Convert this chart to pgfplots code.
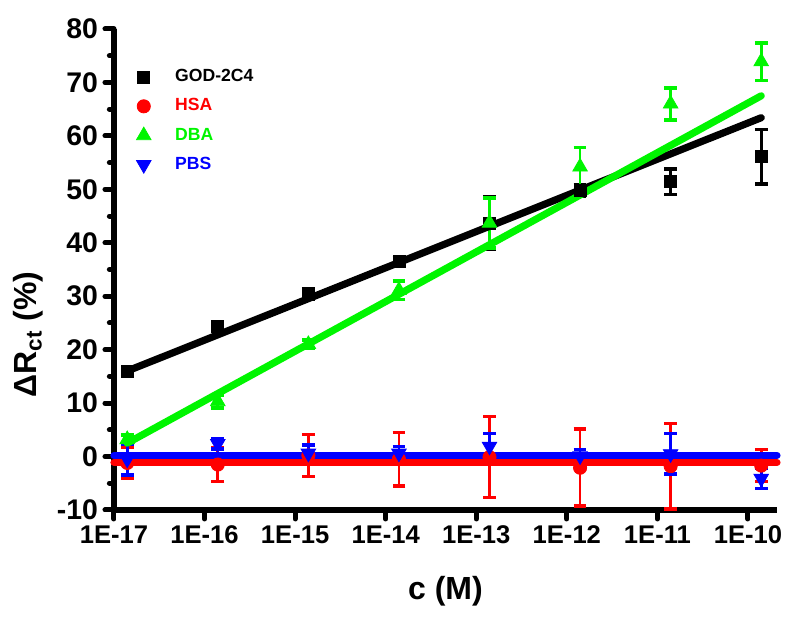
\documentclass[border=0pt]{standalone}
\usepackage{fontspec}
\setmainfont{Liberation Sans}
\usepackage{pgfplots}
\usepackage{pgfplotstable}
\pgfplotsset{compat=1.18}

\definecolor{cred}{RGB}{255,0,0}
\definecolor{cgreen}{RGB}{0,245,0}
\definecolor{cblue}{RGB}{0,0,255}

% x = concentration (M), y = Delta R_ct (%), e = error
\pgfplotstableread{
x        y     e
1.4e-17  16.0  0.6
1.4e-16  24.4  0.8
1.4e-15  30.4  0.9
1.4e-14  36.6  0.5
1.4e-13  43.7  4.9
1.4e-12  49.8  1.0
1.4e-11  51.4  2.4
1.4e-10  56.1  5.1
}\godtab
\pgfplotstableread{
x        y     e
1.4e-17  -1.2  2.9
1.4e-16  -1.5  3.2
1.4e-15  0.2   3.9
1.4e-14  -0.5  5.0
1.4e-13  -0.1  7.6
1.4e-12  -2.1  7.2
1.4e-11  -1.8  8.0
1.4e-10  -1.7  3.0
}\hsatab
\pgfplotstableread{
x        y     e
1.4e-17  3.2   0.8
1.4e-16  10.3  1.2
1.4e-15  21.0  0.8
1.4e-14  31.1  1.7
1.4e-13  43.7  4.7
1.4e-12  54.2  3.6
1.4e-11  66.0  3.0
1.4e-10  73.9  3.5
}\dbatab
\pgfplotstableread{
x        y     e
1.4e-17  -0.5  2.9
1.4e-16  2.4   1.0
1.4e-15  0.6   1.6
1.4e-14  0.6   1.3
1.4e-13  1.9   2.4
1.4e-12  0.1   1.2
1.4e-11  0.5   3.8
1.4e-10  -4.1  1.9
}\pbstab

\begin{document}
\begin{tikzpicture}
\begin{axis}[
    scale only axis,
    width=331.5pt, height=240.5pt,
    xmode=log,
    xmin=1e-17, xmax=2.09e-10,
    ymin=-10, ymax=80,
    axis x line*=bottom, axis y line*=left,
    axis line style={line width=2.7pt, -},
    xtick={1e-17,1e-16,1e-15,1e-14,1e-13,1e-12,1e-11,1e-10},
    xticklabels={1E-17,1E-16,1E-15,1E-14,1E-13,1E-12,1E-11,1E-10},
    xminorticks=false,
    ytick={-10,0,...,80},
    minor y tick num=1,
    tick align=outside,
    major tick length=4.5pt, minor tick length=2.3pt,
    tick style={line width=2.5pt, black, line cap=round},
    /pgf/number format/assume math mode=true,
    xticklabel style={font=\bfseries\fontsize{12.8}{14}\selectfont},
    yticklabel style={font=\bfseries\fontsize{14.2}{16}\selectfont},
    xlabel={c (M)},
    ylabel={ΔR\textsubscript{ct} (\%)},
    label style={font=\bfseries\fontsize{16}{18}\selectfont},
    xlabel style={yshift=-9pt},
    ylabel style={at={(ticklabel cs:0.365)}, anchor=near ticklabel},
    legend style={at={(axis description cs:0,1)}, anchor=north west,
        xshift=10.5pt, yshift=-18pt, inner sep=0pt,
        draw=none, fill=none, row sep=3pt,
        font=\bfseries\fontsize{8.8}{10}\selectfont},
    legend image code/.code={%
        \draw[#1, only marks] plot coordinates {(0pt,0pt)};
        \path (-4pt,0pt) (13.5pt,0pt);},
    legend cell align=left,
    clip=false,
    error bars/y dir=both, error bars/y explicit,
    error bars/error bar style={line width=1.3pt},
    error bars/error mark options={rotate=90, line width=1.8pt, mark size=3.2pt},
]
\addplot[only marks, black, mark=square*, mark size=3pt]
    table[x=x, y=y, y error=e] {\godtab};
\addlegendentry{\textcolor{black}{GOD-2C4}}
\addplot[only marks, cred, mark=*, mark size=3.3pt]
    table[x=x, y=y, y error=e] {\hsatab};
\addlegendentry{\textcolor{cred}{HSA}}
\addplot[only marks, cgreen, mark=triangle*, mark size=4.2pt]
    table[x=x, y=y, y error=e] {\dbatab};
\addlegendentry{\textcolor{cgreen}{DBA}}
\addplot[only marks, cblue, mark=triangle*, mark size=4.2pt, mark options={rotate=180}]
    table[x=x, y=y, y error=e] {\pbstab};
\addlegendentry{\textcolor{cblue}{PBS}}

% linear fits
\addplot[forget plot, black, line width=3.6pt, line cap=round, error bars/y dir=none]
    coordinates {(1.4e-17,16.0) (1.4e-10,63.4)};
\addplot[forget plot, cred, line width=3.6pt, line cap=round, error bars/y dir=none]
    coordinates {(1e-17,-1.1) (2.09e-10,-1.1)};
\addplot[forget plot, cgreen, line width=3.6pt, line cap=round, error bars/y dir=none]
    coordinates {(1.4e-17,2.5) (1.4e-10,67.5)};
\addplot[forget plot, cblue, line width=3.6pt, line cap=round, error bars/y dir=none]
    coordinates {(1e-17,0.2) (2.09e-10,0.2)};
\end{axis}
\pgfresetboundingbox
\path ([shift={(-57pt,-56pt)}]current axis.south west) rectangle ([shift={(11.5pt,14.5pt)}]current axis.north east);
\end{tikzpicture}
\end{document}
